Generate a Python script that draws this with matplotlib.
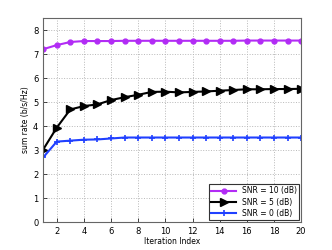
import numpy as np
import matplotlib.pyplot as plt

iters = np.arange(1, 21)
snr10 = [7.2, 7.37, 7.5, 7.54, 7.54, 7.54, 7.55, 7.55, 7.55, 7.55,
         7.55, 7.55, 7.55, 7.55, 7.55, 7.56, 7.56, 7.56, 7.56, 7.56]
snr5 = [3.02, 3.93, 4.69, 4.83, 4.9, 5.08, 5.2, 5.3, 5.42, 5.43,
        5.4, 5.42, 5.44, 5.47, 5.5, 5.53, 5.53, 5.54, 5.54, 5.55]
snr0 = [2.69, 3.35, 3.39, 3.43, 3.44, 3.48, 3.52, 3.52, 3.52, 3.52,
        3.52, 3.52, 3.52, 3.52, 3.52, 3.52, 3.52, 3.52, 3.52, 3.52]
labels = ['SNR = 10 (dB)', 'SNR = 5 (dB)', 'SNR = 0 (dB)']

fig = plt.figure(figsize=(3.32, 2.5), dpi=100)
ax = fig.add_axes([0.130, 0.112, 0.777, 0.816])

ax.plot(iters, snr10, '-o', color='#B22CF5', lw=1.5, ms=3.5, label=labels[0])
ax.plot(iters, snr5, '->', color='black', lw=1.5, ms=5.5, label=labels[1])
ax.plot(iters, snr0, '-+', color='#2040FF', lw=1.5, ms=4, mew=1.2, label=labels[2])

ax.set_xlim(1, 20)
ax.set_ylim(0, 8.5)
ax.set_xticks(range(2, 21, 2))
ax.set_yticks(range(0, 9))
ax.grid(True, ls=':', color='#b8b8b8', lw=0.7)
ax.tick_params(axis='both', direction='in', labelsize=6, length=3, width=0.5)
for s in ax.spines.values():
    s.set_color('#666666')
    s.set_linewidth(0.8)
ax.set_xlabel('Iteration Index', fontsize=5.5, labelpad=1)
ax.set_ylabel('sum rate (b/s/Hz)', fontsize=5.5, labelpad=2)

leg = ax.legend(loc='lower right', fontsize=5.5, fancybox=False, framealpha=1,
                edgecolor='#333333', borderpad=0.3, handlelength=3.2,
                labelspacing=0.3, borderaxespad=0.25)
leg.get_frame().set_linewidth(0.8)

plt.savefig('out.png', dpi=100)
